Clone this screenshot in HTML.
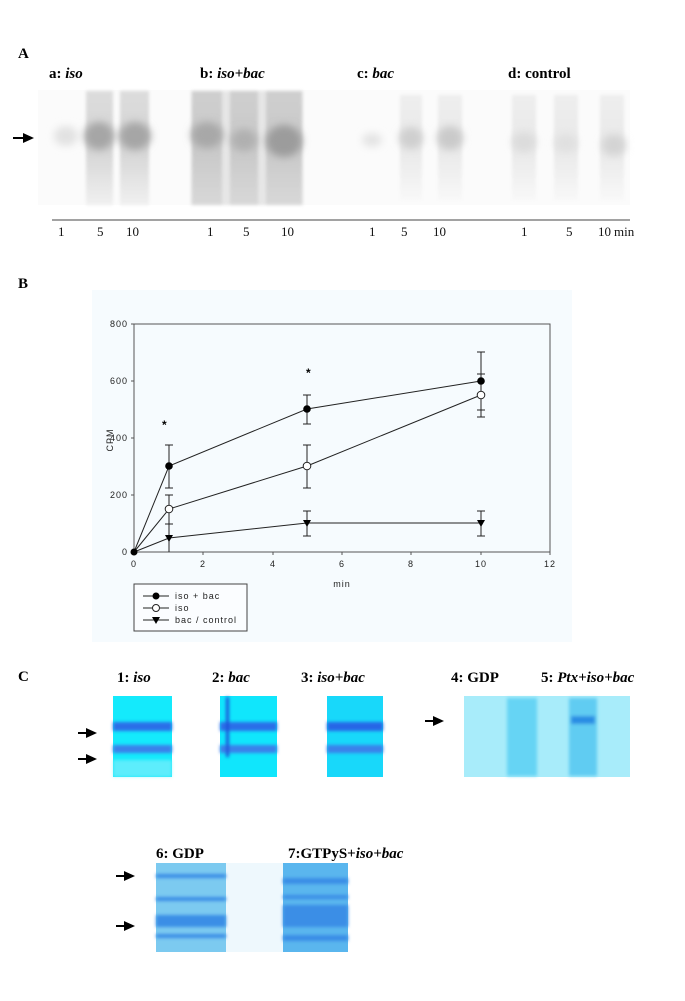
<!DOCTYPE html>
<html><head><meta charset="utf-8"><style>
html,body{margin:0;padding:0;background:#fff;}
svg{display:block;}
.s{font-family:"Liberation Serif",serif;font-weight:bold;}
.a{font-family:"Liberation Sans",sans-serif;font-size:9px;letter-spacing:1px;fill:#222;}
</style></head><body>
<svg width="685" height="1001" viewBox="0 0 685 1001" xmlns="http://www.w3.org/2000/svg">
<defs>
<filter id="b4" x="-50%" y="-50%" width="200%" height="200%"><feGaussianBlur stdDeviation="4"/></filter>
<filter id="b2" x="-50%" y="-50%" width="200%" height="200%"><feGaussianBlur stdDeviation="1.5"/></filter>
<linearGradient id="lg" x1="0" y1="0" x2="0" y2="1"><stop offset="0" stop-color="#dcdcdc"/><stop offset="0.5" stop-color="#d4d4d4"/><stop offset="1" stop-color="#f0f0f0"/></linearGradient>
<linearGradient id="lgb" x1="0" y1="0" x2="0" y2="1"><stop offset="0" stop-color="#cfcfcf"/><stop offset="0.5" stop-color="#c8c8c8"/><stop offset="1" stop-color="#d8d8d8"/></linearGradient>
<linearGradient id="lgl" x1="0" y1="0" x2="0" y2="1"><stop offset="0" stop-color="#eeeeee"/><stop offset="0.5" stop-color="#e8e8e8"/><stop offset="1" stop-color="#f8f8f8"/></linearGradient>
</defs>
<rect width="685" height="1001" fill="#fff"/>

<!-- Panel A -->
<text x="18" y="58" class="s" font-size="15">A</text>
<text x="49" y="78" class="s" font-size="15">a: <tspan font-style="italic">iso</tspan></text>
<text x="200" y="78" class="s" font-size="15">b: <tspan font-style="italic">iso+bac</tspan></text>
<text x="357" y="78" class="s" font-size="15">c: <tspan font-style="italic">bac</tspan></text>
<text x="508" y="78" class="s" font-size="15">d: control</text>
<rect x="38" y="90" width="592" height="115" fill="#fbfbfb"/>
<g filter="url(#b2)">
<rect x="86" y="91" width="27" height="114" fill="url(#lg)"/>
<rect x="120" y="91" width="29" height="114" fill="url(#lg)"/>
<rect x="191" y="91" width="112" height="114" fill="#e6e6e6"/>
<rect x="192" y="91" width="30" height="114" fill="url(#lgb)"/>
<rect x="230" y="91" width="28" height="114" fill="url(#lgb)"/>
<rect x="266" y="91" width="36" height="114" fill="url(#lgb)"/>
<rect x="400" y="95" width="22" height="105" fill="url(#lgl)"/>
<rect x="438" y="95" width="24" height="105" fill="url(#lgl)"/>
<rect x="512" y="95" width="24" height="105" fill="url(#lgl)"/>
<rect x="554" y="95" width="24" height="105" fill="url(#lgl)"/>
<rect x="600" y="95" width="24" height="105" fill="url(#lgl)"/>
</g>
<g filter="url(#b4)">
<ellipse cx="66" cy="136" rx="12" ry="10" fill="#e2e2e2"/>
<ellipse cx="99" cy="136" rx="15" ry="14" fill="#a6a6a6"/>
<ellipse cx="135" cy="136" rx="16" ry="14" fill="#a6a6a6"/>
<ellipse cx="207" cy="135" rx="16" ry="13" fill="#a8a8a8"/>
<ellipse cx="244" cy="140" rx="13" ry="11" fill="#b0b0b0"/>
<ellipse cx="284" cy="141" rx="18" ry="16" fill="#9c9c9c"/>
<ellipse cx="372" cy="140" rx="10" ry="7" fill="#e4e4e4"/>
<ellipse cx="411" cy="138" rx="12" ry="11" fill="#cfcfcf"/>
<ellipse cx="450" cy="138" rx="13" ry="12" fill="#cacaca"/>
<ellipse cx="524" cy="142" rx="12" ry="10" fill="#dcdcdc"/>
<ellipse cx="566" cy="143" rx="11" ry="9" fill="#e0e0e0"/>
<ellipse cx="614" cy="145" rx="12" ry="11" fill="#d4d4d4"/>
</g>
<g fill="#000">
<path d="M13,137 h12 v2 h-12z M23,133 L34,138 L23,143z"/>
</g>
<line x1="52" y1="220" x2="630" y2="220" stroke="#444" stroke-width="1"/>
<g font-family="Liberation Serif,serif" font-size="13" fill="#111">
<text x="58" y="236">1</text><text x="97" y="236">5</text><text x="126" y="236">10</text>
<text x="207" y="236">1</text><text x="243" y="236">5</text><text x="281" y="236">10</text>
<text x="369" y="236">1</text><text x="401" y="236">5</text><text x="433" y="236">10</text>
<text x="521" y="236">1</text><text x="566" y="236">5</text><text x="598" y="236">10</text>
<text x="614" y="236">min</text>
</g>

<!-- Panel B -->
<text x="18" y="288" class="s" font-size="15">B</text>
<rect x="92" y="290" width="480" height="352" fill="#f6fbfe"/>
<rect x="134" y="324" width="416" height="228" fill="none" stroke="#555" stroke-width="1"/>
<g stroke="#555" stroke-width="1">
<line x1="131" y1="324" x2="134" y2="324"/><line x1="131" y1="381" x2="134" y2="381"/><line x1="131" y1="438" x2="134" y2="438"/><line x1="131" y1="495" x2="134" y2="495"/><line x1="131" y1="552" x2="134" y2="552"/>
<line x1="134" y1="552" x2="134" y2="555"/><line x1="203" y1="552" x2="203" y2="555"/><line x1="273" y1="552" x2="273" y2="555"/><line x1="342" y1="552" x2="342" y2="555"/><line x1="411" y1="552" x2="411" y2="555"/><line x1="481" y1="552" x2="481" y2="555"/><line x1="550" y1="552" x2="550" y2="555"/>
</g>
<g class="a" text-anchor="end">
<text x="128" y="327">800</text><text x="128" y="384">600</text><text x="128" y="441">400</text><text x="128" y="498">200</text><text x="128" y="555">0</text>
</g>
<g class="a" text-anchor="middle">
<text x="134" y="567">0</text><text x="203" y="567">2</text><text x="273" y="567">4</text><text x="342" y="567">6</text><text x="411" y="567">8</text><text x="481" y="567">10</text><text x="550" y="567">12</text>
<text x="342" y="587">min</text>
</g>
<text class="a" transform="translate(113,440) rotate(-90)" text-anchor="middle">CPM</text>
<g stroke="#222" stroke-width="1" fill="none">
<line x1="169" y1="445" x2="169" y2="488"/><line x1="165" y1="445" x2="173" y2="445"/><line x1="165" y1="488" x2="173" y2="488"/>
<line x1="307" y1="395" x2="307" y2="424"/><line x1="303" y1="395" x2="311" y2="395"/><line x1="303" y1="424" x2="311" y2="424"/>
<line x1="481" y1="352" x2="481" y2="410"/><line x1="477" y1="352" x2="485" y2="352"/><line x1="477" y1="410" x2="485" y2="410"/>
<line x1="169" y1="495" x2="169" y2="524"/><line x1="165" y1="495" x2="173" y2="495"/><line x1="165" y1="524" x2="173" y2="524"/>
<line x1="307" y1="445" x2="307" y2="488"/><line x1="303" y1="445" x2="311" y2="445"/><line x1="303" y1="488" x2="311" y2="488"/>
<line x1="481" y1="374" x2="481" y2="417"/><line x1="477" y1="374" x2="485" y2="374"/><line x1="477" y1="417" x2="485" y2="417"/>
<line x1="169" y1="524" x2="169" y2="552"/><line x1="165" y1="524" x2="173" y2="524"/>
<line x1="307" y1="511" x2="307" y2="536"/><line x1="303" y1="511" x2="311" y2="511"/><line x1="303" y1="536" x2="311" y2="536"/>
<line x1="481" y1="511" x2="481" y2="536"/><line x1="477" y1="511" x2="485" y2="511"/><line x1="477" y1="536" x2="485" y2="536"/>
<polyline points="134,552 169,466 307,409 481,381"/>
<polyline points="134,552 169,509 307,466 481,395"/>
<polyline points="134,552 169,538 307,523 481,523"/>
</g>
<g fill="#000">
<circle cx="134" cy="552" r="3.5"/><circle cx="169" cy="466" r="3.8"/><circle cx="307" cy="409" r="3.8"/><circle cx="481" cy="381" r="3.8"/>
</g>
<g fill="#fff" stroke="#222" stroke-width="1">
<circle cx="169" cy="509" r="3.8"/><circle cx="307" cy="466" r="3.8"/><circle cx="481" cy="395" r="3.8"/>
</g>
<g fill="#000">
<path d="M165,535 h8 l-4,7z"/><path d="M303,520 h8 l-4,7z"/><path d="M477,520 h8 l-4,7z"/>
</g>
<text x="162" y="429" font-family="Liberation Sans,sans-serif" font-size="12" font-weight="bold">*</text>
<text x="306" y="377" font-family="Liberation Sans,sans-serif" font-size="12" font-weight="bold">*</text>
<rect x="134" y="584" width="113" height="47" fill="#fbfdff" stroke="#444" stroke-width="1"/>
<g stroke="#222" stroke-width="1">
<line x1="143" y1="596" x2="169" y2="596"/><line x1="143" y1="608" x2="169" y2="608"/><line x1="143" y1="620" x2="169" y2="620"/>
</g>
<circle cx="156" cy="596" r="3.5" fill="#000"/>
<circle cx="156" cy="608" r="3.5" fill="#fff" stroke="#222"/>
<path d="M152,617 h8 l-4,7z" fill="#000"/>
<g class="a"><text x="175" y="599">iso + bac</text><text x="175" y="611">iso</text><text x="175" y="623">bac / control</text></g>

<!-- Panel C -->
<text x="18" y="681" class="s" font-size="15">C</text>
<g class="s" font-size="15">
<text x="117" y="682">1: <tspan font-style="italic">iso</tspan></text>
<text x="212" y="682">2: <tspan font-style="italic">bac</tspan></text>
<text x="301" y="682">3: <tspan font-style="italic">iso+bac</tspan></text>
<text x="451" y="682">4: GDP</text>
<text x="541" y="682">5: <tspan font-style="italic">Ptx+iso+bac</tspan></text>
<text x="156" y="858">6: GDP</text>
<text x="288" y="858">7:GTPyS+<tspan font-style="italic">iso+bac</tspan></text>
</g>
<g>
<rect x="113" y="696" width="59" height="81" fill="#14eafc"/>
<rect x="220" y="696" width="57" height="81" fill="#10e6fc"/>
<rect x="327" y="696" width="56" height="81" fill="#18d8fa"/>
<g filter="url(#b2)">
<rect x="113" y="722" width="59" height="9" fill="#2a6ee8"/>
<rect x="113" y="745" width="59" height="8" fill="#3a80ea"/>
<rect x="220" y="722" width="57" height="9" fill="#2a6ee8"/>
<rect x="220" y="745" width="57" height="8" fill="#3a80ea"/>
<rect x="327" y="722" width="56" height="9" fill="#2866e6"/>
<rect x="327" y="745" width="56" height="8" fill="#3a80ea"/>
<rect x="113" y="760" width="59" height="17" fill="#8ef0fc" opacity="0.6"/>
<rect x="226" y="697" width="3" height="60" fill="#1a4fd8"/>
</g>
<rect x="464" y="696" width="166" height="81" fill="#a8ecfa"/>
<g filter="url(#b2)">
<rect x="507" y="698" width="30" height="78" fill="#66d4f4"/>
<rect x="569" y="698" width="28" height="78" fill="#60ccf2"/>
<rect x="571" y="716" width="24" height="8" fill="#2c8ee4"/>
</g>
<rect x="156" y="863" width="70" height="89" fill="#7ccaf0"/>
<rect x="226" y="863" width="57" height="89" fill="#eef8fd"/>
<rect x="283" y="863" width="65" height="89" fill="#5ab6ee"/>
<g filter="url(#b2)" fill="#3a8ee6">
<rect x="156" y="874" width="70" height="4"/><rect x="156" y="897" width="70" height="4"/>
<rect x="156" y="915" width="70" height="12"/><rect x="156" y="934" width="70" height="4"/>
<rect x="283" y="878" width="65" height="6"/><rect x="283" y="895" width="65" height="4"/>
<rect x="283" y="905" width="65" height="22"/><rect x="283" y="935" width="65" height="6"/>
</g>
</g>
<g fill="#000">
<path d="M78,732 h10 v2 h-10z M86,728 L97,733 L86,738z"/>
<path d="M78,758 h10 v2 h-10z M86,754 L97,759 L86,764z"/>
<path d="M425,720 h10 v2 h-10z M433,716 L444,721 L433,726z"/>
<path d="M116,875 h10 v2 h-10z M124,871 L135,876 L124,881z"/>
<path d="M116,925 h10 v2 h-10z M124,921 L135,926 L124,931z"/>
</g>
</svg>
</body></html>
